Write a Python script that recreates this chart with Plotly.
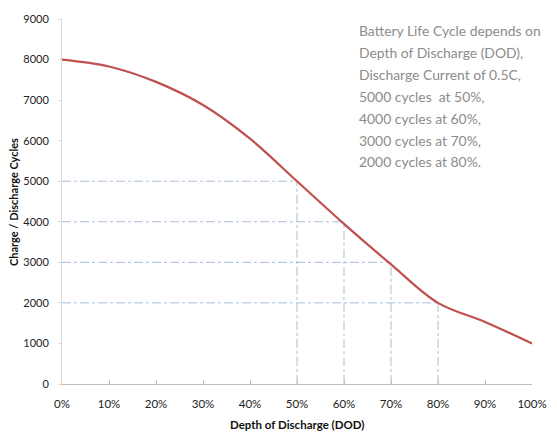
import plotly.graph_objects as go

dod = [0, 10, 20, 30, 40, 50, 60, 70, 80, 90, 100]
cycles = [8000, 7830, 7450, 6880, 6050, 5000, 3950, 2950, 2000, 1530, 1000]

ref_dod = [50, 60, 70, 80]
ref_cycles = [5000, 4000, 3000, 2000]

x_ticks = [0, 10, 20, 30, 40, 50, 60, 70, 80, 90, 100]
x_labels = [f"{v}%" for v in x_ticks]
y_ticks = [0, 1000, 2000, 3000, 4000, 5000, 6000, 7000, 8000, 9000]

note_lines = [
    "Battery Life Cycle depends on",
    "Depth of Discharge (DOD),",
    "Discharge Current of 0.5C,",
    "5000 cycles  at 50%,",
    "4000 cycles at 60%,",
    "3000 cycles at 70%,",
    "2000 cycles at 80%.",
]

FONT = "Lato, Open Sans, sans-serif"
ref_color = "#A9BFD6"

W, H = 557, 435
ML, MR, MT, MB = 62, 25, 19, 51
plot_w = W - ML - MR
plot_h = H - MT - MB


def px_x(page_x):
    return (page_x - ML) / plot_w


def px_y(page_y):
    return (H - MB - page_y) / plot_h


fig = go.Figure()

for d, c in zip(ref_dod, ref_cycles):
    fig.add_trace(go.Scatter(x=[0, d], y=[c, c], mode="lines",
                             line=dict(color=ref_color, width=1, dash="dashdot"),
                             hoverinfo="skip", showlegend=False))
    fig.add_trace(go.Scatter(x=[d, d], y=[0, c], mode="lines",
                             line=dict(color=ref_color, width=1, dash="dashdot"),
                             hoverinfo="skip", showlegend=False))

fig.add_trace(go.Scatter(x=dod, y=cycles, mode="lines",
                         line=dict(color="#C0504D", width=2.2, shape="spline", smoothing=1.0),
                         showlegend=False))

for i, line in enumerate(note_lines):
    fig.add_annotation(text=line, xref="paper", yref="paper",
                       x=px_x(357), y=px_y(31 + 21.8 * i),
                       xanchor="left", yanchor="middle", align="left",
                       showarrow=False,
                       font=dict(family=FONT, size=13.9, color="#8C8C8C"))

fig.add_annotation(text="<b>Depth of Discharge (DOD)</b>", xref="paper", yref="paper",
                   x=0.5, y=px_y(424), xanchor="center", yanchor="middle",
                   showarrow=False, font=dict(family=FONT, size=11.5, color="#111111"))
fig.add_annotation(text="<b>Charge / Discharge Cycles</b>", xref="paper", yref="paper",
                   x=px_x(13), y=px_y(202), xanchor="center", yanchor="middle", textangle=-90,
                   showarrow=False, font=dict(family=FONT, size=11, color="#111111"))

fig.update_layout(
    width=W, height=H,
    margin=dict(l=ML, r=MR, t=MT, b=MB),
    paper_bgcolor="white", plot_bgcolor="white",
    font=dict(family=FONT, size=11, color="#222222"),
    xaxis=dict(range=[0, 100], tickvals=x_ticks, ticktext=x_labels,
               showgrid=False, zeroline=False, showline=True, automargin=False,
               linecolor="#BFBFBF", linewidth=1, ticks="inside", ticklen=4,
               tickcolor="#BFBFBF", ticklabelstandoff=9,
               tickfont=dict(size=11.5)),
    yaxis=dict(range=[0, 9000], tickvals=y_ticks,
               showgrid=False, zeroline=False, showline=True, automargin=False,
               linecolor="#D9D9D9", linewidth=1, ticks="outside", ticklen=3,
               tickcolor="#D9D9D9", ticklabelstandoff=7,
               tickfont=dict(size=11)),
)

fig.write_html("out.html", config={"displayModeBar": False},
               post_script="document.body.style.margin='0';document.body.style.overflow='hidden';")
